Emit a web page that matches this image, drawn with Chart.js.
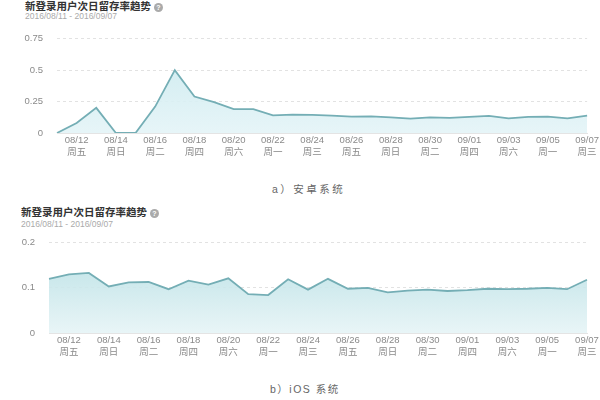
<!DOCTYPE html>
<html>
<head>
<meta charset="utf-8">
<script src="https://cdn.jsdelivr.net/npm/chart.js@4/dist/chart.umd.min.js"></script>
<style>
  html, body { margin: 0; padding: 0; background: #fff; }
  body { width: 600px; height: 400px; position: relative; overflow: hidden;
         font-family: "Liberation Sans", "Noto Sans CJK SC", sans-serif; }
  .title { position: absolute; font-size: 10.5px; font-weight: bold; color: #333; white-space: nowrap; line-height: 12px; }
  .help { display: inline-block; width: 9px; height: 9px; border-radius: 50%; background: #aaa; color: #fff;
          font-size: 7px; line-height: 9px; text-align: center; vertical-align: 0px; margin-left: 3px; font-weight: bold; }
  .sub { position: absolute; font-size: 8.5px; color: #aaa; white-space: nowrap; line-height: 10px; }
  .cap { position: absolute; font-size: 10.5px; color: #666; letter-spacing: 2.5px; white-space: nowrap; line-height: 12px; }
  .wrap { position: absolute; left: 0; width: 600px; height: 150px; }
</style>
</head>
<body>
<div class="title" style="left:25px; top:0px;">新登录用户次日留存率趋势<span class="help">?</span></div>
<div class="sub" style="left:25px; top:11px;">2016/08/11 - 2016/09/07</div>
<div class="wrap" id="w1" style="top:19px;"><canvas id="c1"></canvas></div>
<div class="cap" style="left:272px; top:183px;">a）安卓系统</div>

<div class="title" style="left:21px; top:206px;">新登录用户次日留存率趋势<span class="help">?</span></div>
<div class="sub" style="left:21px; top:219px;">2016/08/11 - 2016/09/07</div>
<div class="wrap" id="w2" style="top:223px;"><canvas id="c2"></canvas></div>
<div class="cap" style="left:270px; top:383px; letter-spacing:1.5px;">b）iOS 系统</div>

<script>
const dates = ["08/11","08/12","08/13","08/14","08/15","08/16","08/17","08/18","08/19","08/20",
  "08/21","08/22","08/23","08/24","08/25","08/26","08/27","08/28","08/29","08/30",
  "08/31","09/01","09/02","09/03","09/04","09/05","09/06","09/07"];
const weekdays = ["周四","周五","周六","周日","周一","周二","周三","周四","周五","周六",
  "周日","周一","周二","周三","周四","周五","周六","周日","周一","周二",
  "周三","周四","周五","周六","周日","周一","周二","周三"];
const androidRetention = [0, 0.08, 0.2, 0, 0, 0.21, 0.5, 0.29, 0.245, 0.19,
  0.19, 0.14, 0.146, 0.144, 0.138, 0.13, 0.133, 0.125, 0.114, 0.125,
  0.12, 0.128, 0.136, 0.117, 0.128, 0.13, 0.117, 0.138];
const iosRetention = [0.12, 0.13, 0.133, 0.103, 0.112, 0.113, 0.097, 0.116, 0.107, 0.121,
  0.086, 0.084, 0.119, 0.096, 0.12, 0.098, 0.1, 0.09, 0.094, 0.096,
  0.093, 0.095, 0.098, 0.097, 0.098, 0.1, 0.097, 0.118];
const androidTicks = [0, 0.25, 0.5, 0.75];
const iosTicks = [0, 0.1, 0.2];

const labels = dates.map((d, i) => [d, weekdays[i]]);
const FONT = '"Liberation Sans", "Noto Sans CJK SC", sans-serif';

function makeChart(id, data, ticks, yWidth, padRight, topColor, bottomColor) {
  const ctx = document.getElementById(id);
  return new Chart(ctx, {
    type: 'line',
    data: {
      labels: labels,
      datasets: [{
        data: data,
        borderColor: '#74aeb5',
        borderWidth: 1.8,
        pointRadius: 0,
        tension: 0,
        fill: 'origin',
        backgroundColor: (c) => {
          const a = c.chart.chartArea;
          if (!a) return topColor;
          const g = c.chart.ctx.createLinearGradient(0, a.top, 0, a.bottom);
          g.addColorStop(0, topColor);
          g.addColorStop(1, bottomColor);
          return g;
        }
      }]
    },
    options: {
      responsive: true,
      maintainAspectRatio: false,
      animation: false,
      layout: { padding: { top: 0, right: padRight, left: 0, bottom: 0 } },
      plugins: { legend: { display: false }, tooltip: { enabled: false } },
      scales: {
        x: {
          offset: false,
          grid: { display: false, drawTicks: false },
          border: { display: true, color: '#e4e4e4' },
          afterFit: (s) => { s.height = 37; },
          ticks: {
            autoSkip: false, maxRotation: 0, minRotation: 0, padding: 1,
            color: '#8a8a8a',
            font: { size: 9.5, family: FONT, lineHeight: 1.3 },
            callback: function (v, i) { return i % 2 === 1 ? labels[i] : ''; }
          }
        },
        y: {
          min: ticks[0], max: ticks[ticks.length - 1],
          afterBuildTicks: (s) => { s.ticks = ticks.map(v => ({ value: v })); },
          afterFit: (s) => { s.width = yWidth; },
          border: { display: false, dash: [3, 3] },
          grid: { drawTicks: false, color: '#e2e2e2', lineWidth: 1 },
          ticks: {
            padding: 14, color: '#8a8a8a',
            font: { size: 9.5, family: FONT },
            callback: (v) => String(v)
          }
        }
      }
    }
  });
}

// Place a chart so its plot area spans the wanted page rows.
function place(chart, wrap, targetTop, targetBottom) {
  for (let k = 0; k < 3; k++) {
    const a = chart.chartArea;
    const below = chart.height - a.bottom;
    const newTop = targetTop - a.top;
    const newH = Math.round(targetBottom - newTop + below);
    wrap.style.top = newTop + 'px';
    wrap.style.height = newH + 'px';
    chart.resize(600, newH);
  }
}

const ch1 = makeChart('c1', androidRetention, androidTicks, 57, 12, 'rgba(198,232,237,0.9)', 'rgba(228,244,247,0.9)');
const ch2 = makeChart('c2', iosRetention, iosTicks, 49, 13, 'rgba(178,221,226,0.9)', 'rgba(230,244,246,0.9)');
place(ch1, document.getElementById('w1'), 39, 133);
place(ch2, document.getElementById('w2'), 243, 333);
</script>
</body>
</html>
